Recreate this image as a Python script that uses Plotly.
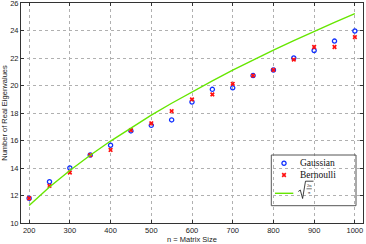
import plotly.graph_objects as go

n_values = [200, 250, 300, 350, 400, 450, 500, 550, 600, 650, 700, 750, 800, 850, 900, 950, 1000]
gaussian = [11.8, 13.0, 14.0, 14.95, 15.65, 16.7, 17.1, 17.5, 18.8, 19.72, 19.83, 20.72, 21.13, 22.0, 22.55, 23.23, 23.96]
bernoulli = [11.8, 12.7, 13.67, 14.93, 15.31, 16.75, 17.25, 18.14, 18.99, 19.35, 20.12, 20.72, 21.13, 21.88, 22.8, 22.8, 23.52]
theory = [11.28, 12.62, 13.82, 14.93, 15.96, 16.93, 17.84, 18.71, 19.54, 20.34, 21.11, 21.85, 22.57, 23.26, 23.94, 24.59, 25.23]

x_ticks = [200, 300, 400, 500, 600, 700, 800, 900, 1000]
y_ticks = [10, 12, 14, 16, 18, 20, 22, 24, 26]
legend_names = ["Gaussian", "Bernoulli"]

W_FIG, H_FIG = 366, 244
L, R, T, B = 21, 3, 3, 21
PW, PH = W_FIG - L - R, H_FIG - T - B


def px(x):
    return (x - L) / PW


def py(y):
    return (T + PH - y) / PH


BLUE = "#1030ff"
RED = "#ff1010"
GREEN = "#66e600"
SERIF = "Liberation Serif, DejaVu Serif, serif"
SANS = "Liberation Sans, Arial, sans-serif"

circle_marker = dict(symbol="circle-open", size=4.2, color=BLUE, line=dict(width=1.3, color=BLUE))
cross_marker = dict(symbol="x", size=4.2, color=RED, line=dict(width=0))

fig = go.Figure()
fig.add_trace(go.Scatter(x=n_values, y=gaussian, mode="markers", name="Gaussian", showlegend=False,
                         marker=circle_marker))
fig.add_trace(go.Scatter(x=n_values, y=bernoulli, mode="markers", name="Bernoulli", showlegend=False,
                         marker=cross_marker))
fig.add_trace(go.Scatter(x=n_values, y=theory, mode="lines", name="sqrt(2n/pi)", showlegend=False,
                         line=dict(color=GREEN, width=1.4)))

# legend (drawn manually for compact MATLAB-like spacing)
box = dict(x0=px(271.3), x1=px(356), y0=py(205.7), y1=py(155))
row_y = [py(163.3), py(175), py(193.3)]
mark_x = px(284)
text_x = px(298.3)

fig.add_trace(go.Scatter(x=[mark_x], y=[row_y[0]], xaxis="x2", yaxis="y2", mode="markers",
                         showlegend=False, hoverinfo="skip", marker=circle_marker))
fig.add_trace(go.Scatter(x=[mark_x], y=[row_y[1]], xaxis="x2", yaxis="y2", mode="markers",
                         showlegend=False, hoverinfo="skip", marker=cross_marker))

radical = [(298.3, 191.5), (300.3, 190.0), (302.6, 198.5), (305.5, 181.2), (313.5, 181.2)]
radical_path = "M " + " L ".join(f"{px(a):.5f},{py(b):.5f}" for a, b in radical)

shapes = [
    dict(type="rect", xref="paper", yref="paper", line=dict(width=0),
         fillcolor="white", layer="between", **box),
    dict(type="rect", xref="paper", yref="paper", line=dict(color="#555555", width=1),
         fillcolor="rgba(0,0,0,0)", layer="above", **box),
    dict(type="line", xref="paper", yref="paper", x0=px(275), x1=px(293.3), y0=row_y[2], y1=row_y[2],
         line=dict(color=GREEN, width=1.4), layer="above"),
    # radical sign
    dict(type="path", xref="paper", yref="paper", path=radical_path,
         line=dict(color="#111111", width=0.8), layer="above"),
    # fraction bar
    dict(type="line", xref="paper", yref="paper", x0=px(306.5), x1=px(311.8), y0=py(188.8), y1=py(188.8),
         line=dict(color="#111111", width=0.6), layer="above"),
]

annotations = []
for name, yy in zip(legend_names, row_y[:2]):
    annotations.append(dict(x=text_x, y=yy, xref="paper", yref="paper", text=name, showarrow=False,
                            xanchor="left", yanchor="middle", font=dict(family=SERIF, size=9.5, color="#111111")))
annotations += [
    dict(x=px(309.2), y=py(185.4), xref="paper", yref="paper", text="2n", showarrow=False,
         xanchor="center", yanchor="middle", font=dict(family=SERIF, size=4.5, color="#111111")),
    dict(x=px(309.2), y=py(192.4), xref="paper", yref="paper", text="π", showarrow=False,
         xanchor="center", yanchor="middle", font=dict(family=SERIF, size=4.5, color="#111111")),
]

axis_common = dict(
    showline=True, linecolor="#333333", linewidth=1, mirror="ticks",
    ticks="inside", ticklen=3, tickcolor="#333333",
    showgrid=True, gridcolor="#b0b0b0", griddash="dot", gridwidth=1,
    zeroline=False, ticklabeloverflow="allow",
    tickfont=dict(family=SANS, size=7.5, color="#222222"),
)

fig.update_layout(
    width=W_FIG, height=H_FIG,
    margin=dict(l=L, r=R, t=T, b=B, autoexpand=False),
    paper_bgcolor="white", plot_bgcolor="white",
    showlegend=False,
    shapes=shapes,
    annotations=annotations,
    xaxis=dict(
        range=[180, 1020], tickvals=x_ticks,
        title=dict(text="n = Matrix Size", standoff=1,
                   font=dict(family=SANS, size=7.5, color="#222222")),
        **axis_common,
    ),
    yaxis=dict(
        range=[10, 26], tickvals=y_ticks,
        title=dict(text="Number of Real Eigenvalues", standoff=4,
                   font=dict(family=SANS, size=7.5, color="#222222")),
        **axis_common,
    ),
    xaxis2=dict(overlaying="x", range=[0, 1], visible=False, fixedrange=True),
    yaxis2=dict(overlaying="y", range=[0, 1], visible=False, fixedrange=True),
)

fig.write_html("out.html", config={"displayModeBar": False},
               post_script="document.body.style.margin='0';document.body.style.overflow='hidden';")
